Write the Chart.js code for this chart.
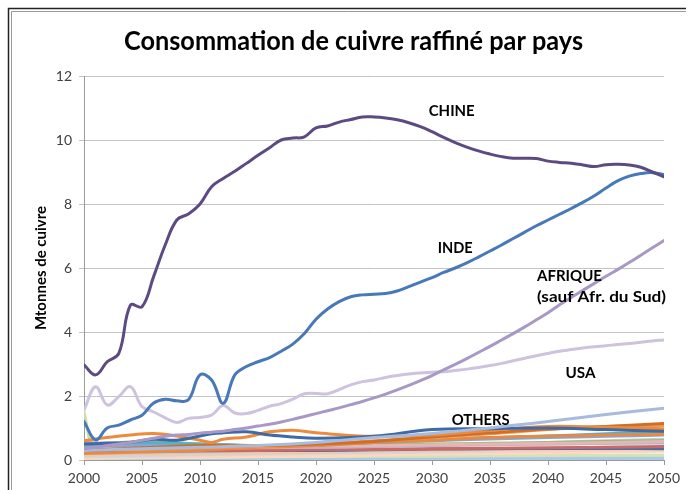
<!DOCTYPE html>
<html>
<head>
<meta charset="utf-8">
<script src="https://cdn.jsdelivr.net/npm/chart.js@4"></script>
<style>
  html, body { margin: 0; padding: 0; background: #ffffff; }
  #wrap { position: relative; width: 688px; height: 490px; }
</style>
</head>
<body>
<div id="wrap"><canvas id="c" width="688" height="490"></canvas></div>
<script>
// ---------- DATA ----------
const chartTitle = 'Consommation de cuivre raffiné par pays';
const yAxisTitle = 'Mtonnes de cuivre';
const xTickLabels = ['2000','2005','2010','2015','2020','2025','2030','2035','2040','2045','2050'];
const yTickLabels = ['0','2','4','6','8','10','12'];

const years = [2000,2001,2002,2003,2004,2005,2006,2007,2008,2009,2010,2011,2012,2013,2014,2015,2016,2017,2018,2019,
  2020,2021,2022,2023,2024,2025,2026,2027,2028,2029,2030,2031,2032,2033,2034,2035,2036,2037,2038,2039,
  2040,2041,2042,2043,2044,2045,2046,2047,2048,2049,2050];

const chine = [2.97,2.66,3.07,3.33,4.84,4.79,5.73,6.72,7.50,7.69,8.00,8.54,8.80,9.02,9.27,9.52,9.76,10.00,10.06,10.10,
  10.38,10.44,10.56,10.64,10.72,10.72,10.69,10.63,10.54,10.42,10.26,10.08,9.92,9.78,9.66,9.56,9.48,9.43,9.43,9.42,
  9.34,9.30,9.27,9.22,9.17,9.23,9.24,9.22,9.15,9.00,8.85];
const inde = [1.20,0.63,1.00,1.09,1.25,1.40,1.78,1.90,1.85,1.88,2.66,2.50,1.77,2.66,2.92,3.07,3.20,3.40,3.62,3.95,
  4.40,4.72,4.95,5.10,5.16,5.18,5.20,5.28,5.42,5.56,5.70,5.86,6.00,6.16,6.34,6.53,6.72,6.92,7.12,7.32,
  7.50,7.68,7.86,8.05,8.26,8.50,8.72,8.87,8.95,8.98,8.92];
const afrique = [0.35,0.40,0.45,0.50,0.55,0.62,0.68,0.74,0.78,0.80,0.84,0.87,0.90,0.95,1.00,1.06,1.12,1.19,1.27,1.36,
  1.45,1.54,1.63,1.73,1.83,1.94,2.06,2.19,2.33,2.48,2.64,2.82,2.99,3.17,3.36,3.55,3.75,3.95,4.16,4.38,
  4.60,4.85,5.08,5.30,5.52,5.74,5.95,6.17,6.40,6.63,6.86];
const usa = [1.56,2.29,1.72,1.98,2.29,1.67,1.50,1.32,1.17,1.30,1.33,1.40,1.70,1.47,1.45,1.55,1.68,1.76,1.90,2.07,
  2.08,2.07,2.20,2.35,2.45,2.50,2.58,2.64,2.69,2.72,2.74,2.76,2.80,2.84,2.89,2.95,3.02,3.10,3.18,3.26,
  3.33,3.40,3.45,3.50,3.54,3.57,3.61,3.64,3.68,3.72,3.75];

// "Others" series (read at a coarser set of years)
const years5 = [2000,2005,2010,2015,2020,2025,2030,2035,2040,2045,2050];
const yearsFine = [2000,2002,2004,2006,2008,2010,2011,2012,2014,2016,2018,2020,2025,2030,2035,2040,2045,2050];
const yearsSpike = [2000,2001,2002,2003,2004,2005,2010,2020,2030,2040,2050];

const othDarkBlue = [0.50,0.52,0.55,0.65,0.62,0.75,0.82,0.85,0.88,0.78,0.72,0.68,0.74,0.95,0.98,1.00,0.95,0.90];
const othOrange   = [0.60,0.70,0.78,0.83,0.75,0.62,0.55,0.65,0.72,0.88,0.93,0.85,0.74,0.78,0.92,1.05,1.02,0.98];
const othSteel    = [0.30,0.35,0.40,0.45,0.55,0.70,0.83,1.00,1.20,1.42,1.62];
const othBrown    = [0.30,0.38,0.45,0.45,0.50,0.58,0.72,0.85,0.97,1.05,1.14];
const othOrange2  = [0.35,0.33,0.38,0.42,0.50,0.60,0.70,0.82,0.95,1.05,1.08];
const othOrange3  = [0.20,0.25,0.30,0.40,0.45,0.55,0.62,0.70,0.75,0.78,0.80];
const othTeal     = [0.50,0.55,0.50,0.45,0.50,0.55,0.62,0.70,0.75,0.82,0.88];
const othMedBlue  = [0.42,0.45,0.48,0.45,0.48,0.55,0.60,0.66,0.70,0.74,0.78];
const othPink     = [0.50,0.55,0.45,0.45,0.45,0.45,0.48,0.50,0.52,0.55,0.58];
const othLavender = [0.55,0.50,0.48,0.42,0.40,0.42,0.45,0.48,0.50,0.52,0.55];
const othOlive    = [0.45,0.58,0.50,0.45,0.45,0.48,0.50,0.52,0.55,0.58,0.60];
const othSalmon   = [0.32,0.35,0.35,0.38,0.40,0.42,0.45,0.48,0.50,0.52,0.55];
const othRed      = [0.25,0.27,0.28,0.30,0.32,0.33,0.35,0.37,0.38,0.40,0.42];
const othNavy     = [0.30,0.32,0.30,0.30,0.30,0.32,0.34,0.35,0.36,0.36,0.35];
const othLightBlue= [0.20,0.22,0.25,0.28,0.32,0.38,0.45,0.50,0.55,0.60,0.65];
const othPeach    = [0.15,0.18,0.20,0.22,0.25,0.28,0.30,0.33,0.35,0.38,0.40];
const othPaleTeal = [0.12,0.15,0.18,0.20,0.22,0.25,0.28,0.32,0.36,0.40,0.45];
const othPalePink = [0.10,0.12,0.15,0.18,0.20,0.22,0.25,0.27,0.29,0.30,0.32];
const othPaleOrg  = [0.05,0.07,0.08,0.10,0.12,0.15,0.18,0.20,0.22,0.25,0.27];
const othLtGreen  = [0.08,0.08,0.10,0.10,0.10,0.12,0.12,0.13,0.14,0.15,0.16];
const othSky      = [0.03,0.03,0.03,0.03,0.04,0.04,0.04,0.05,0.05,0.05,0.05];
const othSpike    = [1.50,0.05,0.10,0.20,0.05,0.05,0.06,0.08,0.10,0.10,0.12];

// text annotations
const annotTexts = ['CHINE','INDE','AFRIQUE','(sauf Afr. du Sud)','USA','OTHERS'];
const annotYears = [2031.7,2032.0,2039.05,2039.05,2042.8,2034.2];
const annotValues = [10.9,6.62,5.75,5.09,2.72,1.25];
const annotAlign = ['center','center','left','left','center','center'];
const annotWidths = [46,35,65,129,30,58];

// ---------- BUILD ----------
function pts(xs, ys) { return xs.map((x, i) => ({ x: x, y: ys[i] })); }
function ds(label, xs, ys, color, width) {
  return { label: label, data: pts(xs, ys), borderColor: color, backgroundColor: color,
    borderWidth: width || 3, pointRadius: 0, pointHoverRadius: 0, tension: 0.4, fill: false,
    borderCapStyle: 'round', borderJoinStyle: 'round' };
}

const datasets = [
  ds('CHINE', years, chine, '#5d4a82', 3),
  ds('INDE', years, inde, '#4778b8', 3),
  ds('AFRIQUE', years, afrique, '#a898c6', 3),
  ds('USA', years, usa, '#cdc3de', 3),
  ds('o1', years5, othSteel, '#a6bbdd', 3),
  ds('o2', yearsFine, othDarkBlue, '#3e6aa6', 3),
  ds('o3', yearsFine, othOrange, '#ee8a3c', 3),
  ds('o4', years5, othBrown, '#cf6e28', 3),
  ds('o5', years5, othOrange2, '#f39a50', 3),
  ds('o6', years5, othOrange3, '#e88a45', 3),
  ds('o7', years5, othTeal, '#5aaec6', 3),
  ds('o8', years5, othMedBlue, '#86a7d6', 3),
  ds('o9', years5, othPink, '#e4b6b4', 3),
  ds('o10', years5, othLavender, '#bdb0d2', 3),
  ds('o11', years5, othOlive, '#9bbb59', 3),
  ds('o12', years5, othSalmon, '#e4a898', 3),
  ds('o13', years5, othRed, '#c96a66', 3),
  ds('o14', years5, othNavy, '#4a6f9f', 3),
  ds('o15', years5, othLightBlue, '#b9cde5', 3),
  ds('o16', years5, othPeach, '#f8c8a4', 3),
  ds('o17', years5, othPaleTeal, '#b7dee8', 3),
  ds('o18', years5, othPalePink, '#f0cfcc', 3),
  ds('o19', years5, othPaleOrg, '#fcd9bc', 3),
  ds('o20', years5, othLtGreen, '#d4e2b8', 3),
  ds('o21', years5, othSky, '#a9cbe8', 3),
  ds('o22', yearsSpike, othSpike, '#cfdcaa', 3)
];

function fitText(ctx, text, x, y, target, align) {
  const w = ctx.measureText(text).width;
  const s = target / w;
  ctx.save();
  ctx.translate(x, y);
  ctx.scale(s, 1);
  ctx.textAlign = align;
  ctx.fillText(text, 0, 0);
  ctx.restore();
}

const framePlugin = {
  id: 'frame',
  beforeDraw(chart) {
    const ctx = chart.ctx;
    ctx.save();
    ctx.fillStyle = '#ffffff';
    ctx.fillRect(0, 0, chart.width, chart.height);
    ctx.strokeStyle = '#222222'; ctx.lineWidth = 1.5;
    ctx.beginPath(); ctx.moveTo(8.5, 490); ctx.lineTo(8.5, 8.5); ctx.lineTo(686, 8.5); ctx.stroke();
    ctx.strokeStyle = '#9a9a9a'; ctx.lineWidth = 1;
    ctx.beginPath(); ctx.moveTo(11.5, 490); ctx.lineTo(11.5, 11.5); ctx.lineTo(686, 11.5); ctx.stroke();
    // title
    ctx.fillStyle = '#000000';
    ctx.font = 'bold 26px Lato';
    ctx.textBaseline = 'middle';
    fitText(ctx, chartTitle, 353.5, 42, 459, 'center');
    ctx.restore();
  }
};

const annotPlugin = {
  id: 'annots',
  afterDatasetsDraw(chart) {
    const ctx = chart.ctx;
    const xs = chart.scales.x, ys = chart.scales.y;
    ctx.save();
    ctx.fillStyle = '#000000';
    ctx.font = 'bold 16px Lato';
    ctx.textBaseline = 'middle';
    annotTexts.forEach((t, i) => {
      fitText(ctx, t, xs.getPixelForValue(annotYears[i]), ys.getPixelForValue(annotValues[i]), annotWidths[i], annotAlign[i]);
    });
    ctx.restore();
  }
};

new Chart(document.getElementById('c'), {
  type: 'line',
  data: { datasets: datasets },
  options: {
    responsive: false,
    animation: false,
    events: [],
    layout: { padding: { left: 30, right: 24, top: 76, bottom: 0 } },
    plugins: { legend: { display: false }, tooltip: { enabled: false }, title: { display: false } },
    scales: {
      x: {
        type: 'linear', min: 2000, max: 2050,
        afterFit(s) { s.height = 30; },
        afterBuildTicks(s) { s.ticks = xTickLabels.map(v => ({ value: Number(v) })); },
        ticks: { callback: (v) => String(v), color: '#404040', font: { family: 'Lato', size: 14 }, padding: 5, maxRotation: 0, autoSkip: false },
        grid: { drawOnChartArea: false, drawTicks: true, tickLength: 5, color: '#9a9a9a' },
        border: { color: '#9a9a9a', width: 1 }
      },
      y: {
        min: 0, max: 12,
        afterFit(s) { s.width = 54; },
        afterBuildTicks(s) { s.ticks = yTickLabels.map(v => ({ value: Number(v) })); },
        ticks: { color: '#404040', font: { family: 'Lato', size: 14 }, padding: 7 },
        grid: { color: '#c4c4c4', tickLength: 5, drawTicks: true },
        border: { color: '#9a9a9a', width: 1 },
        title: { display: true, text: yAxisTitle, color: '#000000', font: { family: 'Lato', size: 15, weight: 'bold' }, padding: { top: 2, bottom: 2 } }
      }
    }
  },
  plugins: [framePlugin, annotPlugin]
});
</script>
</body>
</html>
